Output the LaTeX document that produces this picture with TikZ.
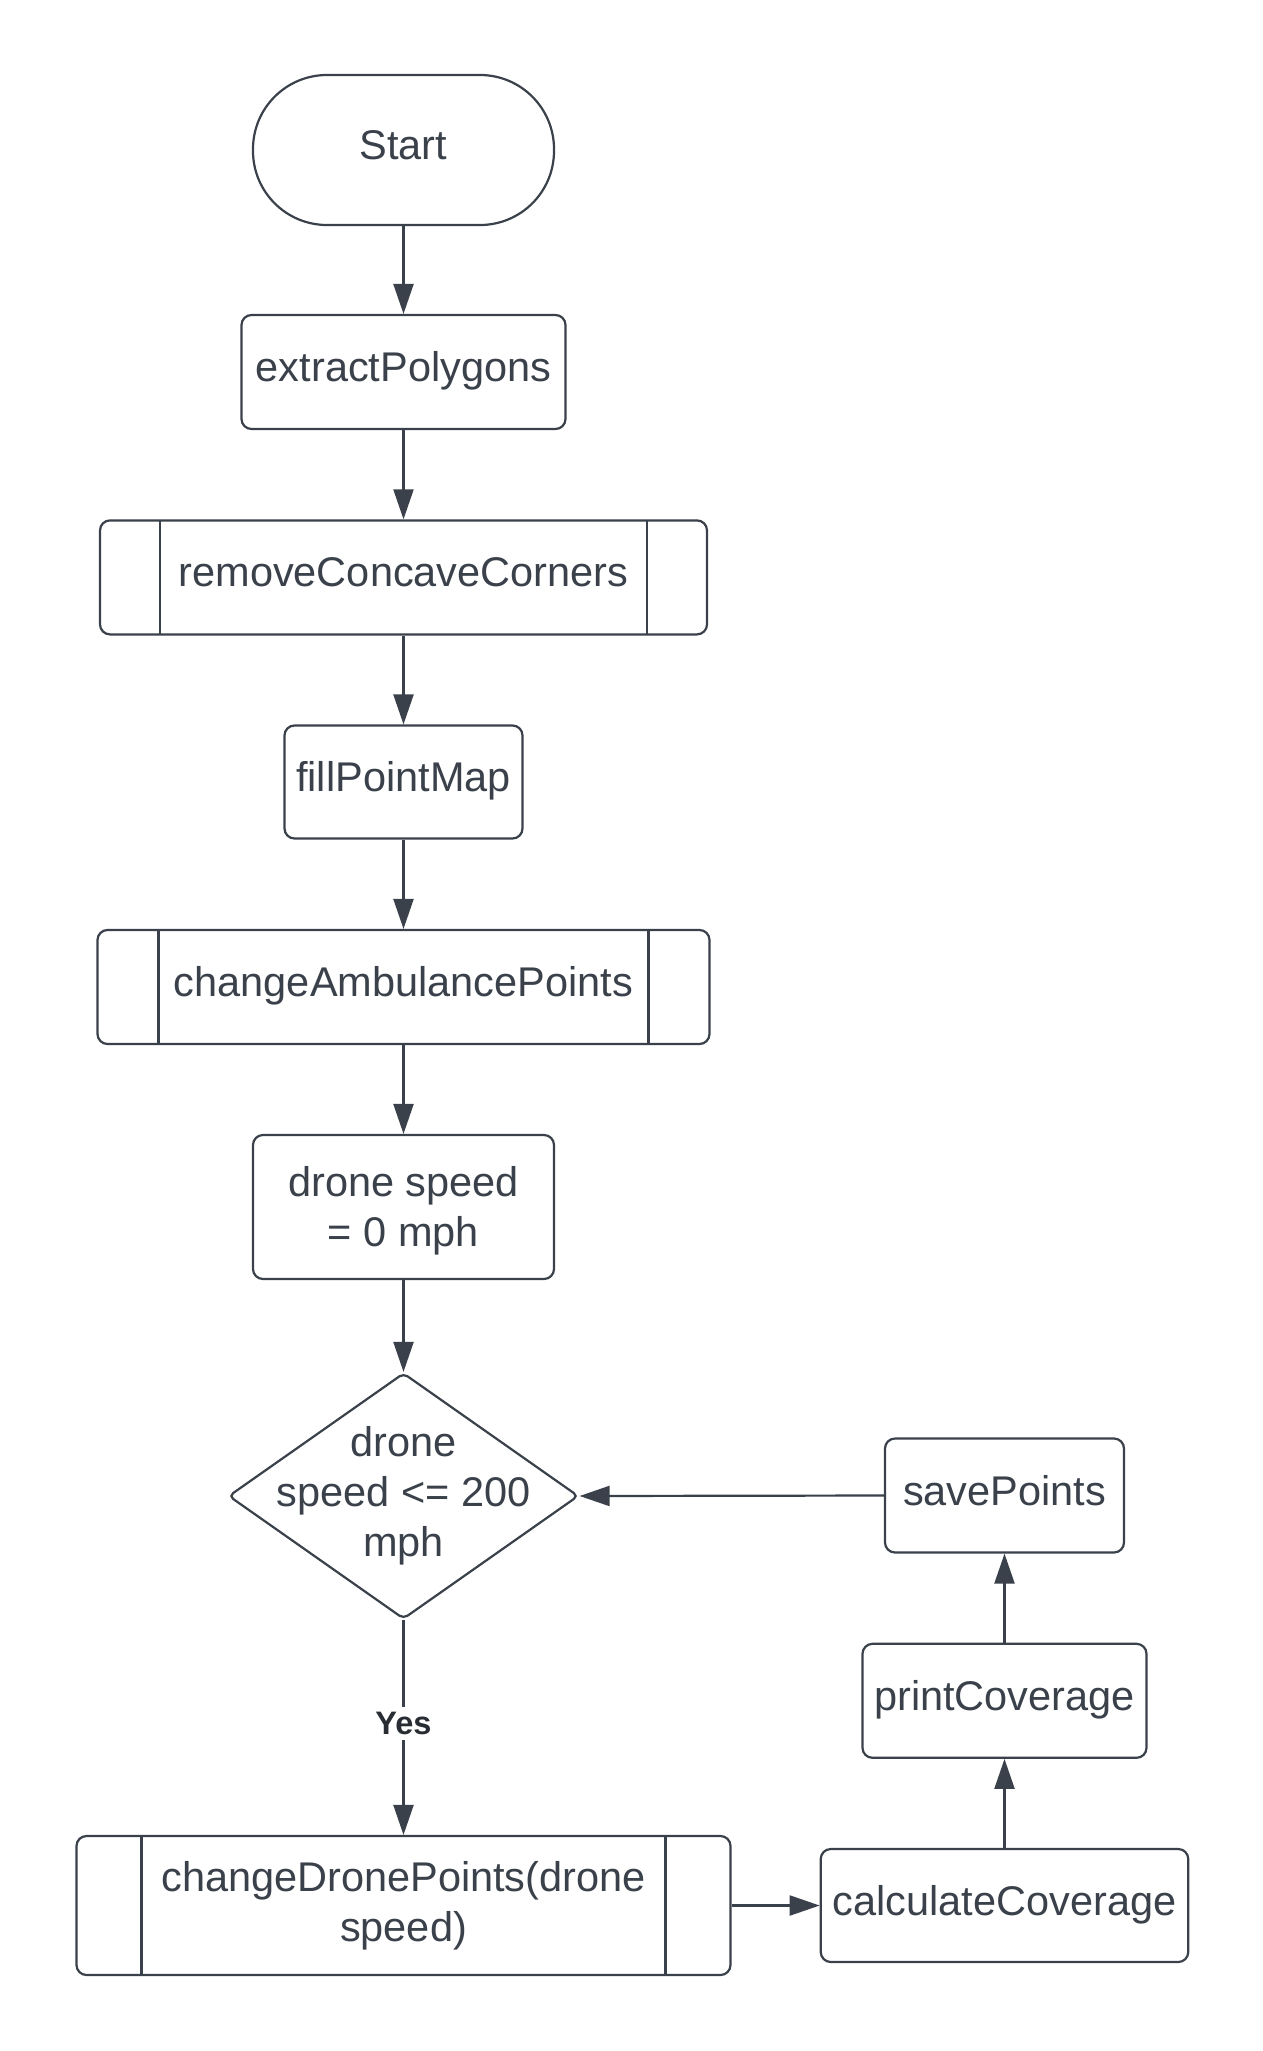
\documentclass[tikz,border=0pt]{standalone}
\usepackage{fontspec}
\setmainfont{Liberation Sans}
\usetikzlibrary{arrows.meta,shapes.geometric}
\definecolor{ink}{HTML}{3A414A}
\definecolor{labelink}{HTML}{282C33}
\begin{document}
\begin{tikzpicture}[x=1pt,y=-1pt,
  base/.style={draw=ink, line width=2.2pt, text=ink, font=\fontsize{41.5}{50}\selectfont, inner sep=0pt, align=center},
  sl/.style={text height=30pt, text depth=11pt},
  box/.style={base, rectangle, rounded corners=10pt},
  term/.style={base, rectangle, rounded corners=74pt},
  sub/.style={box, path picture={\draw[ink, line width=2.2pt]
      ([xshift=#1]path picture bounding box.north west) -- ([xshift=#1]path picture bounding box.south west)
      ([xshift=-#1]path picture bounding box.north east) -- ([xshift=-#1]path picture bounding box.south east);}},
  decision/.style={base, diamond, rounded corners=5pt},
  conn/.style={draw=ink, line width=2.2pt, -{Triangle[length=30pt,width=20pt]}},
  yeslabel/.style={fill=white, text=labelink, font=\fontsize{32.5}{38}\selectfont\bfseries, inner xsep=4pt, inner ysep=5pt}
]
\useasboundingbox (0,0) rectangle (1262,2051);
\fill[white] (0,0) rectangle (1262,2051);

\node[term, sl, minimum width=301pt, minimum height=150pt] (start) at (403.5,150) {Start};
\node[box, sl, minimum width=324pt, minimum height=114pt] (extract) at (403.5,372) {extractPolygons};
\node[sub=60pt, sl, minimum width=607pt, minimum height=114pt] (remove) at (403.5,577.4) {removeConcaveCorners};
\node[box, sl, minimum width=238pt, minimum height=113pt] (fill) at (403.5,782) {fillPointMap};
\node[sub=61pt, sl, minimum width=612pt, minimum height=114pt] (amb) at (403.5,987) {changeAmbulancePoints};
\node[box, minimum width=301pt, minimum height=144pt] (speed) at (403.5,1207) {};
\node[text=ink, font=\fontsize{41.5}{50}\selectfont, align=center, inner sep=0pt] (speedtext) at ([yshift=-4pt]speed.center) {drone speed\\= 0 mph};
\node[decision, minimum width=350pt, minimum height=246pt] (dec) at (403.5,1496) {};
\node[text=ink, font=\fontsize{41.5}{50}\selectfont, align=center, inner sep=0pt] (dectext) at (dec.center) {drone\\speed <= 200\\mph};
\node[sub=65pt, minimum width=654pt, minimum height=139pt] (drone) at (403.5,1905.5) {changeDronePoints(drone\\speed)};
\node[box, sl, minimum width=367.5pt, minimum height=113pt] (calc) at (1004.5,1905.5) {calculateCoverage};
\node[box, sl, minimum width=284pt, minimum height=114pt] (print) at (1004.5,1700.8) {printCoverage};
\node[box, sl, minimum width=239pt, minimum height=114pt] (save) at (1004.5,1495.5) {savePoints};

\draw[conn] (start) -- (extract);
\draw[conn] (extract) -- (remove);
\draw[conn] (remove) -- (fill);
\draw[conn] (fill) -- (amb);
\draw[conn] (amb) -- (speed);
\draw[conn] (speed) -- (dec.north);
\draw[conn] (dec.south) -- node[yeslabel, pos=0.48] (yes) {Yes} (drone.north);
\draw[conn] (drone.east) -- (calc.west);
\draw[conn] (calc) -- (print);
\draw[conn] (print) -- (save);
\draw[conn] (save.west) -- (dec.east);
\end{tikzpicture}
\end{document}
